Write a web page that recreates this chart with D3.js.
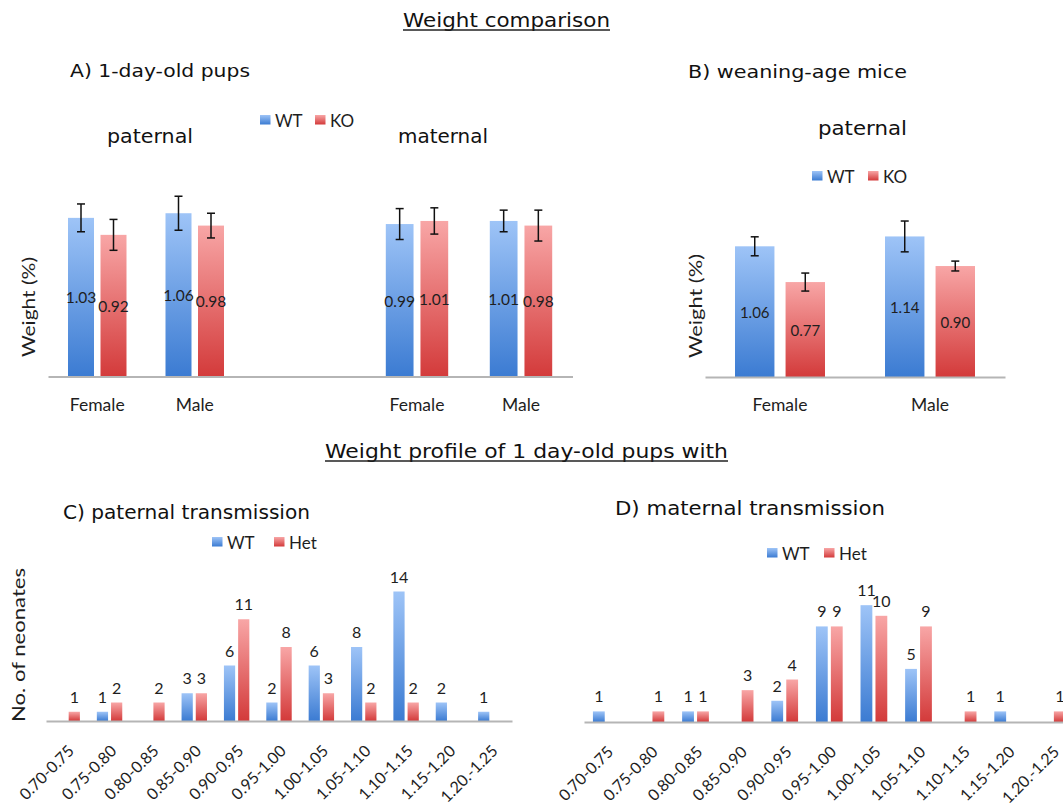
<!DOCTYPE html>
<html><head><meta charset="utf-8">
<script src="https://cdn.jsdelivr.net/npm/d3@7"></script>
<style>body{margin:0;background:#fff} svg{display:block}</style>
</head><body>
<svg id="chart" width="1063" height="809"></svg>
<script>
// ---------- data ----------
const sexCategories = ["Female", "Male"];
const koKeys = ["WT", "KO"];
const hetKeys = ["WT", "Het"];

const pupsPaternalWT = [1.03, 1.06];
const pupsPaternalKO = [0.92, 0.98];
const pupsPaternalWTErr = [0.09, 0.11];
const pupsPaternalKOErr = [0.10, 0.08];

const pupsMaternalWT = [0.99, 1.01];
const pupsMaternalKO = [1.01, 0.98];
const pupsMaternalWTErr = [0.10, 0.07];
const pupsMaternalKOErr = [0.085, 0.10];

const weaningWT = [1.06, 1.14];
const weaningKO = [0.77, 0.90];
const weaningWTErr = [0.077, 0.125];
const weaningKOErr = [0.073, 0.04];

const weightBins = ["0.70-0.75","0.75-0.80","0.80-0.85","0.85-0.90","0.90-0.95","0.95-1.00","1.00-1.05","1.05-1.10","1.10-1.15","1.15-1.20","1.20.-1.25"];
const paternalWT  = [0, 1, 0, 3, 6, 2, 6, 8, 14, 2, 1];
const paternalHet = [1, 2, 2, 3, 11, 8, 3, 2, 2, 0, 0];
const maternalWT  = [1, 0, 1, 0, 2, 9, 11, 5, 0, 1, 0];
const maternalHet = [0, 1, 1, 3, 4, 9, 10, 9, 1, 0, 1];

// ---------- setup ----------
const svg = d3.select("#chart");
const defs = svg.append("defs");
function grad(id, top, bottom) {
  const g = defs.append("linearGradient").attr("id", id)
    .attr("x1", 0).attr("y1", 0).attr("x2", 0).attr("y2", 1);
  g.append("stop").attr("offset", "0%").attr("stop-color", top);
  g.append("stop").attr("offset", "100%").attr("stop-color", bottom);
}
grad("gBlue", "#9ec4f7", "#3b7bd2");
grad("gRed", "#f8a6a6", "#d33a3a");
const fills = { WT: "url(#gBlue)", KO: "url(#gRed)", Het: "url(#gRed)" };

const chartFont = "Lato, 'Open Sans', sans-serif";
const titleFont = "'DejaVu Sans', sans-serif";
const textColor = "#1e1e1e";

function title(txt, x, y, w, size, underline) {
  svg.append("text").attr("x", x).attr("y", y)
    .attr("font-family", titleFont).attr("font-size", size)
    .attr("fill", "#111")
    .attr("textLength", w).attr("lengthAdjust", "spacingAndGlyphs")
    .text(txt);
  if (underline) {
    svg.append("line").attr("x1", x).attr("x2", x + w)
      .attr("y1", y + 3).attr("y2", y + 3)
      .attr("stroke", "#222").attr("stroke-width", 1.4);
  }
}

function legend(keys, x, y, gap) {
  let cx = x;
  keys.forEach((k) => {
    svg.append("rect").attr("x", cx).attr("y", y - 12).attr("width", 10.5).attr("height", 9.5)
      .attr("fill", fills[k]);
    svg.append("text").attr("x", cx + 15).attr("y", y)
      .attr("font-family", chartFont).attr("font-size", 17).attr("fill", textColor).text(k);
    cx += gap;
  });
}

function yTitle(txt, x, y, size, len) {
  svg.append("text")
    .attr("transform", `translate(${x},${y}) rotate(-90)`)
    .attr("text-anchor", "middle").attr("dominant-baseline", "central")
    .attr("font-family", chartFont).attr("font-size", size).attr("fill", textColor)
    .attr("textLength", len).attr("lengthAdjust", "spacingAndGlyphs")
    .text(txt);
}

function barPanel(cfg) {
  const x0 = d3.scaleBand().domain(cfg.categories).range(cfg.xRange)
    .paddingInner(0.4).paddingOuter(0.2);
  const x1 = d3.scaleBand().domain(cfg.keys).range([0, x0.bandwidth()]).paddingInner(cfg.subPad);
  const y = d3.scaleLinear().domain(cfg.yDomain).range(cfg.yRange);
  const g = svg.append("g");
  const rows = [];
  cfg.keys.forEach((k, ki) => {
    cfg.values[ki].forEach((v, i) => {
      if (v > 0) rows.push({ k, cat: cfg.categories[i], v, err: cfg.errors ? cfg.errors[ki][i] : null });
    });
  });
  g.selectAll("rect.bar").data(rows).join("rect").attr("class", "bar")
    .attr("x", d => x0(d.cat) + x1(d.k)).attr("width", x1.bandwidth())
    .attr("y", d => y(d.v)).attr("height", d => y(0) - y(d.v))
    .attr("fill", d => fills[d.k]);

  // axis
  const axis = d3.axisBottom(x0).tickSize(0).tickPadding(cfg.tickPad || 22);
  const ag = g.append("g").attr("transform", `translate(0,${y(0)})`).call(axis);
  ag.select(".domain").attr("stroke", cfg.showDomain ? "#b5b5b5" : "none").attr("stroke-width", 2);
  ag.selectAll("text").attr("font-family", chartFont).attr("font-size", cfg.tickSize || 17.5)
    .attr("fill", textColor);
  if (cfg.rotate) {
    ag.selectAll(".tick text")
      .attr("x", 0).attr("y", 0).attr("dy", 0)
      .attr("text-anchor", "end")
      .attr("transform", `translate(${cfg.rotDx},${cfg.rotDy}) rotate(-45)`);
  }

  // error bars
  if (cfg.errors) {
    const eb = g.selectAll("g.err").data(rows).join("g").attr("class", "err")
      .attr("transform", d => `translate(${x0(d.cat) + x1(d.k) + x1.bandwidth() / 2},0)`);
    eb.append("line").attr("y1", d => y(d.v + d.err)).attr("y2", d => y(d.v - d.err))
      .attr("stroke", "#111").attr("stroke-width", 1.5);
    eb.append("line").attr("x1", -4).attr("x2", 4).attr("y1", d => y(d.v + d.err)).attr("y2", d => y(d.v + d.err))
      .attr("stroke", "#111").attr("stroke-width", 1.5);
    eb.append("line").attr("x1", -4).attr("x2", 4).attr("y1", d => y(d.v - d.err)).attr("y2", d => y(d.v - d.err))
      .attr("stroke", "#111").attr("stroke-width", 1.5);
  }

  // value labels
  g.selectAll("text.val").data(rows).join("text").attr("class", "val")
    .attr("x", d => x0(d.cat) + x1(d.k) + x1.bandwidth() / 2)
    .attr("y", d => cfg.labelCenter ? (y(d.v) + y(0)) / 2 : y(d.v) - 9)
    .attr("dominant-baseline", cfg.labelCenter ? "central" : "auto")
    .attr("text-anchor", "middle")
    .attr("font-family", chartFont).attr("font-size", cfg.labelSize)
    .attr("fill", textColor)
    .text(d => cfg.format(d.v));
  return { x0, y };
}

// ---------- titles ----------
title("Weight comparison", 403, 27, 207, 19, true);
title("A) 1-day-old pups", 70, 77, 180, 18);
title("paternal", 107, 143, 86, 19);
title("maternal", 398, 143, 90, 19);
title("B) weaning-age mice", 688, 78, 219, 18);
title("paternal", 818, 135, 89, 19);
title("Weight profile of 1 day-old pups with", 325, 458, 403, 19, true);
title("C) paternal transmission", 63, 519, 247, 19);
title("D) maternal transmission", 615, 515, 270, 20);

// ---------- panel A ----------
const fmt2 = d3.format(".2f");
const pA1 = barPanel({
  categories: sexCategories, keys: koKeys,
  values: [pupsPaternalWT, pupsPaternalKO], errors: [pupsPaternalWTErr, pupsPaternalKOErr],
  xRange: [48.5, 243.5], subPad: 0.2, yDomain: [0, 1.2], yRange: [377, 377 - 1.2 * 154.5],
  labelCenter: true, labelSize: 15.5, format: fmt2
});
barPanel({
  categories: sexCategories, keys: koKeys,
  values: [pupsMaternalWT, pupsMaternalKO], errors: [pupsMaternalWTErr, pupsMaternalKOErr],
  xRange: [365, 573], subPad: 0.2, yDomain: [0, 1.2], yRange: [377, 377 - 1.2 * 154.5],
  labelCenter: true, labelSize: 15.5, format: fmt2
});
svg.append("line").attr("x1", 48.5).attr("x2", 573).attr("y1", pA1.y(0)).attr("y2", pA1.y(0))
  .attr("stroke", "#b5b5b5").attr("stroke-width", 2);
legend(koKeys, 260, 127, 55);
yTitle("Weight (%)", 28, 307, 18, 100);

// ---------- panel B ----------
barPanel({
  categories: sexCategories, keys: koKeys,
  values: [weaningWT, weaningKO], errors: [weaningWTErr, weaningKOErr],
  xRange: [705, 1005], subPad: 0.22, yDomain: [0, 1.2], yRange: [377, 377 - 1.2 * 123.3],
  labelCenter: true, labelSize: 15, format: fmt2, showDomain: true
});
legend(koKeys, 812, 183, 56);
yTitle("Weight (%)", 695, 306, 18, 104);

// ---------- panel C ----------
barPanel({
  categories: weightBins, keys: hetKeys,
  values: [paternalWT, paternalHet],
  xRange: [46, 512], subPad: 0.21, yDomain: [0, 14], yRange: [721, 721 - 14 * 9.25],
  labelCenter: false, labelSize: 16, format: d3.format("d"), showDomain: true,
  rotate: true, rotDx: 8, rotDy: 31, tickSize: 16
});
legend(hetKeys, 212, 549, 62);
yTitle("No. of neonates", 18, 645, 18, 154);

// ---------- panel D ----------
barPanel({
  categories: weightBins, keys: hetKeys,
  values: [maternalWT, maternalHet],
  xRange: [584, 1074.6], subPad: 0.21, yDomain: [0, 11], yRange: [722, 722 - 11 * 10.62],
  labelCenter: false, labelSize: 16, format: d3.format("d"), showDomain: true,
  rotate: true, rotDx: 8, rotDy: 31, tickSize: 16
});
legend(hetKeys, 767, 560, 57);
</script>
</body></html>
